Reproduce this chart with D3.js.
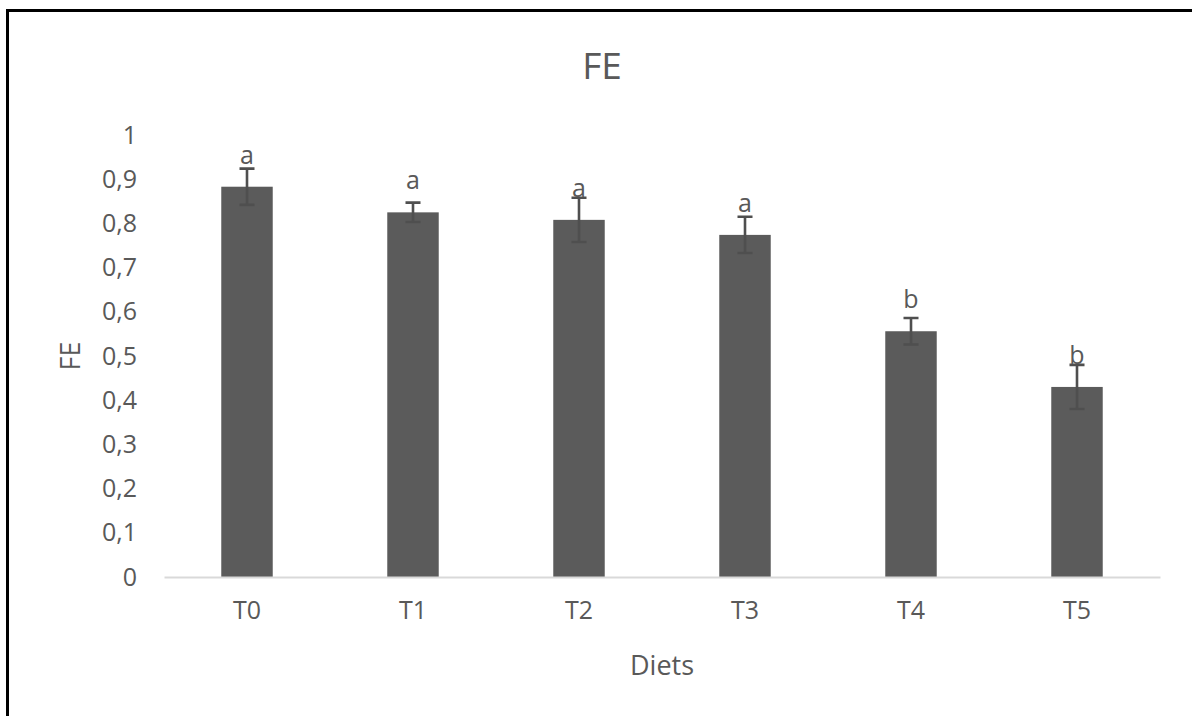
<!DOCTYPE html>
<html>
<head>
<meta charset="utf-8">
<script src="https://cdn.jsdelivr.net/npm/d3@7"></script>
<style>
  html, body { margin: 0; padding: 0; background: #fff; }
  svg { display: block; }
  text { font-family: "Open Sans", "Noto Sans", sans-serif; fill: #595959; }
</style>
</head>
<body>
<svg id="chart" width="1192" height="716"></svg>
<script>
// Feed efficiency per diet, mean ± error, with significance letters
const categories = ["T0", "T1", "T2", "T3", "T4", "T5"];
const means = [0.883, 0.825, 0.808, 0.774, 0.556, 0.430];
const errors = [0.041, 0.022, 0.050, 0.041, 0.030, 0.050];
const letters = ["a", "a", "a", "a", "b", "b"];
const yTicks = [0, 0.1, 0.2, 0.3, 0.4, 0.5, 0.6, 0.7, 0.8, 0.9, 1];

const W = 1192, H = 716;
const plot = { left: 164, right: 1160, top: 135, bottom: 577 };

const svg = d3.select("#chart");

// frame (top and left edges)
svg.append("path")
  .attr("d", `M7.5,${H + 5} V10.5 H${W + 5}`)
  .attr("fill", "none")
  .attr("stroke", "#000")
  .attr("stroke-width", 3);

const x = d3.scaleBand()
  .domain(categories)
  .range([plot.left, plot.right])
  .paddingInner(0.69)
  .paddingOuter(0.345);

const y = d3.scaleLinear()
  .domain([0, 1])
  .range([plot.bottom, plot.top]);

const locale = d3.formatLocale({ decimal: ",", thousands: ".", grouping: [3], currency: ["", ""] });
const fmt = locale.format(".1~f");

// y axis labels (no axis line, no ticks)
const yAxis = svg.append("g")
  .attr("transform", `translate(${plot.left - 14},0)`)
  .call(d3.axisLeft(y).tickValues(yTicks).tickFormat(fmt).tickSize(0).tickPadding(13));
yAxis.select(".domain").remove();
yAxis.selectAll("text")
  .attr("font-size", 25)
  .attr("fill", "#595959")
  .style("font-family", "'Open Sans', 'Noto Sans', sans-serif");

// bars
const data = categories.map((c, i) => ({ c, v: means[i], e: errors[i], l: letters[i] }));

svg.append("g").selectAll("rect")
  .data(data)
  .join("rect")
  .attr("x", d => x(d.c))
  .attr("y", d => y(d.v))
  .attr("width", x.bandwidth())
  .attr("height", d => y(0) - y(d.v))
  .attr("fill", "#5b5b5b");

// x axis baseline and labels
const xAxis = svg.append("g")
  .attr("transform", `translate(0,${plot.bottom})`)
  .call(d3.axisBottom(x).tickSize(0).tickPadding(24));
xAxis.select(".domain")
  .attr("stroke", "#d9d9d9")
  .attr("stroke-width", 2.2);
xAxis.selectAll("text")
  .attr("font-size", 25)
  .attr("fill", "#595959")
  .style("font-family", "'Open Sans', 'Noto Sans', sans-serif");

// error bars
const eb = svg.append("g")
  .attr("stroke", "#4f4f4f")
  .attr("stroke-width", 2.6)
  .attr("fill", "none");
const cx = d => x(d.c) + x.bandwidth() / 2;
const capHalf = 7.5;
eb.selectAll("path")
  .data(data)
  .join("path")
  .attr("d", d => {
    const t = y(d.v + d.e), b = y(d.v - d.e), c = cx(d);
    return `M${c},${t} V${b} M${c - capHalf},${t} H${c + capHalf} M${c - capHalf},${b} H${c + capHalf}`;
  });

// significance letters above each bar
svg.append("g").selectAll("text")
  .data(data)
  .join("text")
  .attr("x", cx)
  .attr("y", d => y(d.v) - 23)
  .attr("text-anchor", "middle")
  .attr("font-size", 25)
  .text(d => d.l);

// chart title
svg.append("text")
  .attr("x", 602)
  .attr("y", 79)
  .attr("text-anchor", "middle")
  .attr("font-size", 37)
  .text("FE");

// axis titles
svg.append("text")
  .attr("x", (plot.left + plot.right) / 2)
  .attr("y", 675)
  .attr("text-anchor", "middle")
  .attr("font-size", 27)
  .text("Diets");

svg.append("text")
  .attr("transform", `translate(80,${(plot.top + plot.bottom) / 2}) rotate(-90)`)
  .attr("text-anchor", "middle")
  .attr("font-size", 27)
  .text("FE");
</script>
</body>
</html>
